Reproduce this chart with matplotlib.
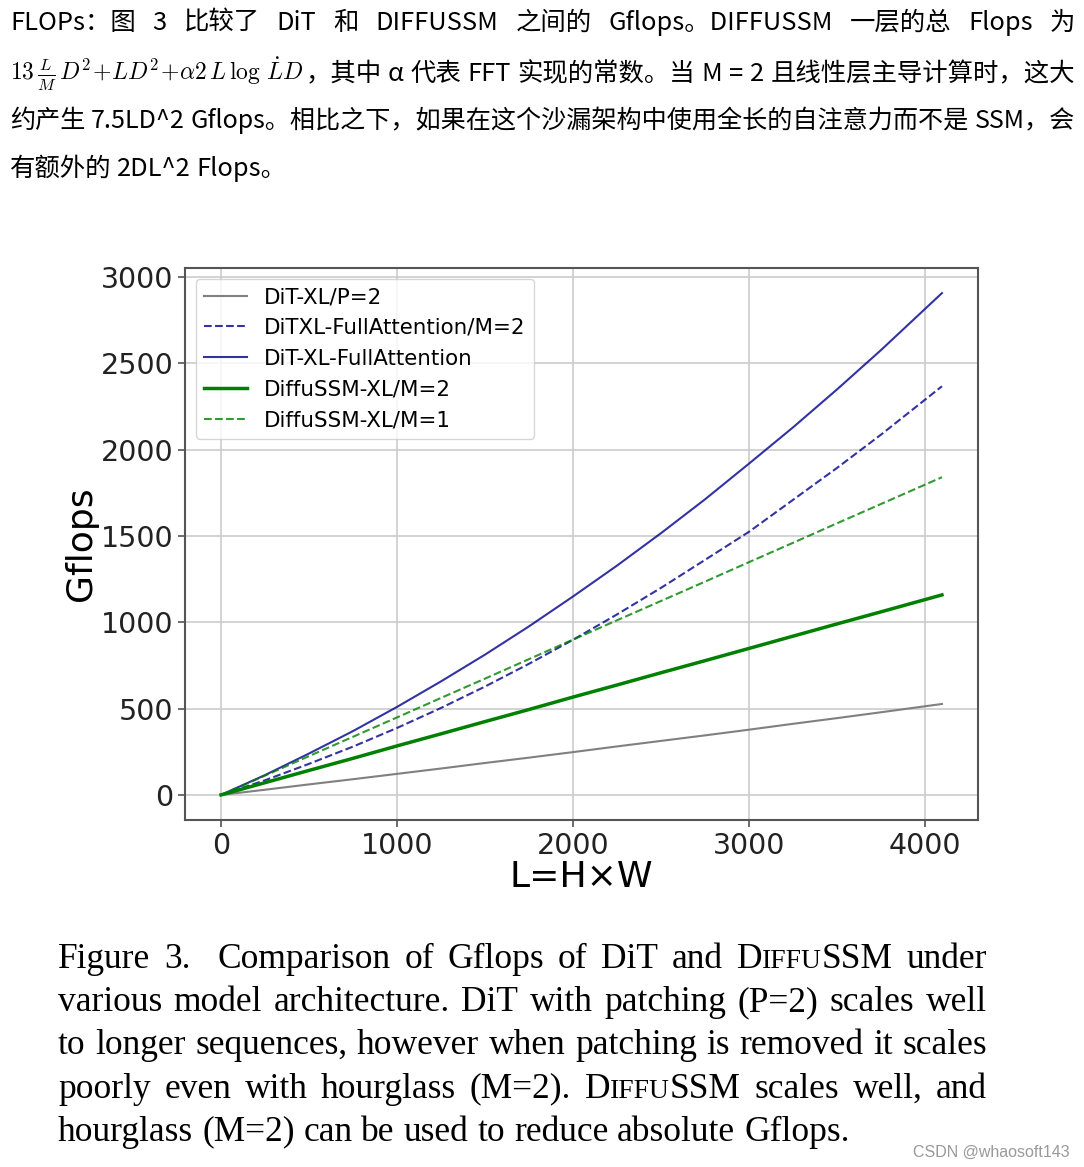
import re
import matplotlib
matplotlib.use('Agg')
import matplotlib.pyplot as plt

# data (Gflops vs sequence length L = H x W)
L = [0, 250, 500, 750, 1000, 1250, 1500, 1750, 2000, 2250, 2500, 2750, 3000, 3250, 3500, 3750, 4096]
dit_p2 = [0, 30, 61, 91, 122, 153, 185, 216, 248, 281, 313, 345, 378, 412, 445, 479, 527]
dit_full_m2 = [0, 85, 180, 280, 388, 504, 628, 760, 899, 1046, 1200, 1362, 1525, 1710, 1895, 2088, 2368]
dit_full = [0, 115, 240, 370, 510, 658, 813, 977, 1150, 1329, 1517, 1713, 1920, 2130, 2350, 2578, 2908]
diffussm_m2 = [0, 71, 142, 212, 284, 354, 425, 495, 567, 637, 708, 778, 849, 920, 991, 1061, 1159]
diffussm_m1 = [0, 112, 225, 337, 449, 562, 674, 787, 900, 1012, 1124, 1236, 1349, 1461, 1574, 1686, 1841]

labels = ['DiT-XL/P=2', 'DiTXL-FullAttention/M=2', 'DiT-XL-FullAttention',
          'DiffuSSM-XL/M=2', 'DiffuSSM-XL/M=1']
xticks = [0, 1000, 2000, 3000, 4000]
yticks = [0, 500, 1000, 1500, 2000, 2500, 3000]

# surrounding blog text
top_line1 = 'FLOPs：图 3 比较了 DiT 和 DIFFUSSM 之间的 Gflops。DIFFUSSM 一层的总 Flops 为'
formula = r'$13\,\frac{L}{M}\,D^2\!+\!LD^2\!+\!\alpha 2\,L\,\log\,\dot{L}D$'
top_line2 = '，其中 α 代表 FFT 实现的常数。当 M = 2 且线性层主导计算时，这大'
top_line3 = '约产生 7.5LD^2 Gflops。相比之下，如果在这个沙漏架构中使用全长的自注意力而不是 SSM，会'
top_line4 = '有额外的 2DL^2 Flops。'

caption = [
    'Figure 3.  Comparison of Gflops of DiT and D{IFFU}SSM under',
    'various model architecture. DiT with patching (P=2) scales well',
    'to longer sequences, however when patching is removed it scales',
    'poorly even with hourglass (M=2). D{IFFU}SSM scales well, and',
    'hourglass (M=2) can be used to reduce absolute Gflops.',
]

plt.rcParams['mathtext.fontset'] = 'cm'
W, H = 1084, 1167
fig = plt.figure(figsize=(W / 100, H / 100), dpi=100)
fig.patch.set_facecolor('white')
renderer = fig.canvas.get_renderer()
cjk = ['Noto Sans CJK SC', 'DejaVu Sans']


def width(t):
    return t.get_window_extent(renderer=renderer).width


def build(line, size, family, sc):
    placed = []
    total = 0
    for w in line.split(' '):
        runs = []
        for p in [p for p in re.split(r'(\{[^}]*\})', w) if p]:
            if p.startswith('{'):
                t = fig.text(0, 0, p[1:-1], fontsize=size * sc, family=family, va='baseline')
            else:
                t = fig.text(0, 0, p, fontsize=size, family=family, va='baseline')
            runs.append((t, width(t)))
            total += runs[-1][1]
        placed.append(runs)
    a = fig.text(0, 0, 'x x', fontsize=size, family=family)
    b = fig.text(0, 0, 'xx', fontsize=size, family=family)
    space = width(a) - width(b)
    a.remove()
    b.remove()
    return placed, total, space


def put_line(x0, x1, y, line, size, family, justify=True, sc=0.78):
    n = len(line.split(' '))
    while True:
        placed, total, space = build(line, size, family, sc)
        if not justify or n < 2 or (x1 - x0 - total) / (n - 1) >= space:
            break
        for runs in placed:
            for t, wd in runs:
                t.remove()
        size -= 0.2
    gap = space
    if justify and n > 1:
        gap = (x1 - x0 - total) / (n - 1)
    x = x0
    for runs in placed:
        for t, wd in runs:
            t.set_position((x / W, 1 - y / H))
            x += wd
        x += gap


# top paragraph
put_line(10, 1075, 30, top_line1, 18.3, cjk)
f = fig.text(10 / W, 1 - 81 / H, formula, fontsize=17, va='baseline')
fx = 10 + width(f)
put_line(fx + 2, 1075, 81, top_line2, 18.3, cjk)
put_line(10, 1075, 128, top_line3, 18.3, cjk)
put_line(10, 1075, 176, top_line4, 18.3, cjk, justify=False)

# chart
ax = fig.add_axes([185 / W, 1 - 820 / H, (978 - 185) / W, (820 - 268) / H])
ax.plot(L, dit_p2, color='gray', lw=1.5, label=labels[0])
ax.plot(L, dit_full_m2, color='darkblue', alpha=0.8, ls='--', lw=1.5, label=labels[1])
ax.plot(L, dit_full, color='darkblue', alpha=0.8, lw=1.5, label=labels[2])
ax.plot(L, diffussm_m2, color='green', lw=2.5, label=labels[3])
ax.plot(L, diffussm_m1, color='green', alpha=0.8, ls='--', lw=1.5, label=labels[4])

ax.set_xticks(xticks)
ax.set_yticks(yticks)
ax.grid(True, color='#cccccc', lw=1.2)
ax.set_axisbelow(True)
for s in ax.spines.values():
    s.set_color('#555555')
    s.set_linewidth(1.5)
ax.tick_params(colors='#555555', labelcolor='#222222', labelsize=20.5, length=5, width=1.2)
ax.set_xlabel('L=H×W', fontsize=26, labelpad=0)
ax.set_ylabel('Gflops', fontsize=26, labelpad=2)
ax.legend(loc='upper left', fontsize=15.4, framealpha=0.8, labelspacing=0.5)

# caption
for i, line in enumerate(caption):
    put_line(58, 987, 968 + i * 43.2, line, 25.5, 'Liberation Serif', justify=(i < 4))

fig.text(1070 / W, 1 - 1157 / H, 'CSDN @whaosoft143', fontsize=11.5,
         family='Liberation Sans', color='#999999', ha='right', va='baseline')

fig.savefig('out.png', dpi=100)
